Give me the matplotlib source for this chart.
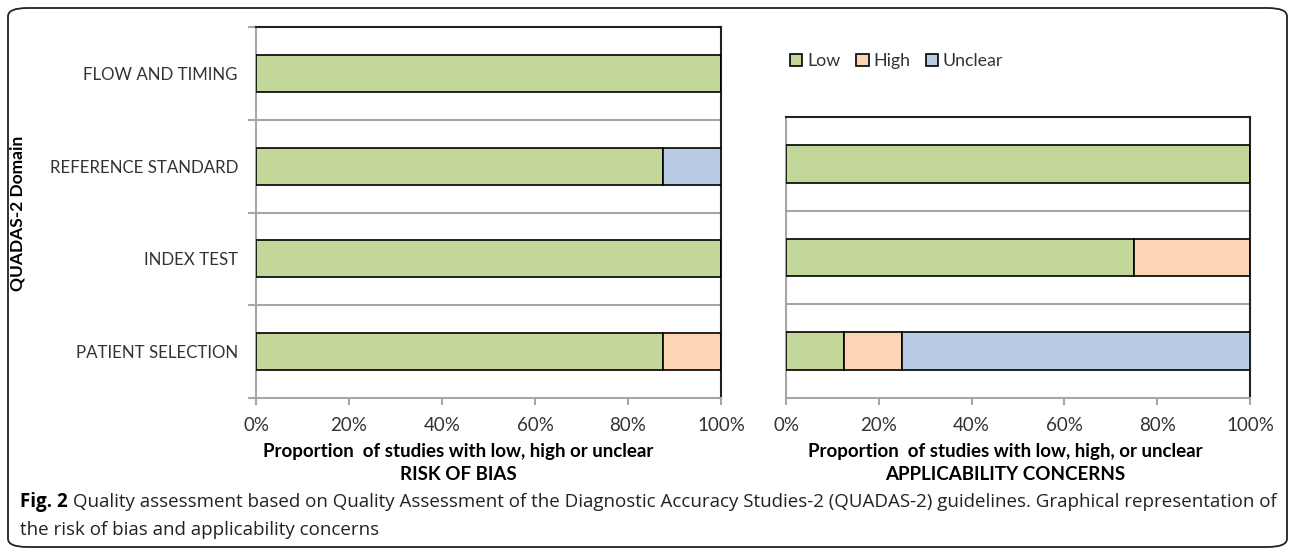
import numpy as np
import matplotlib
matplotlib.use("Agg")
import matplotlib.pyplot as plt
from matplotlib.patches import FancyBboxPatch, Patch

plt.rcParams['font.family'] = ['Lato', 'DejaVu Sans']

# risk of bias (bottom to top)
rob_domains = ["PATIENT SELECTION", "INDEX TEST", "REFERENCE STANDARD", "FLOW AND TIMING"]
rob_low = [87.5, 100, 87.5, 100]
rob_high = [12.5, 0, 0, 0]
rob_unclear = [0, 0, 12.5, 0]

# applicability concerns (bottom to top)
app_domains = ["PATIENT SELECTION", "INDEX TEST", "REFERENCE STANDARD"]
app_low = [12.5, 75, 100]
app_high = [12.5, 25, 0]
app_unclear = [75, 0, 0]

xticks = [0, 20, 40, 60, 80, 100]
xticklabels = ["0%", "20%", "40%", "60%", "80%", "100%"]

GREEN = "#c4d79b"
ORANGE = "#fcd5b4"
BLUE = "#b8cce4"
GRAY = "#a6a6a6"
TXT = "#333333"

W, H = 1295, 555
fig = plt.figure(figsize=(W / 100, H / 100), dpi=100)


def px(x0, y0, x1, y1):
    return [x0 / W, 1 - y1 / H, (x1 - x0) / W, (y1 - y0) / H]


def panel(ax, n, low, high, unclear, labels=None):
    y = np.arange(n)
    kw = dict(height=0.4, edgecolor="black", linewidth=1.2, zorder=3)
    low = np.array(low)
    high = np.array(high)
    unclear = np.array(unclear)
    ax.barh(y, low, color=GREEN, **kw)
    ax.barh(y, high, left=low, color=ORANGE, **kw)
    ax.barh(y, unclear, left=low + high, color=BLUE, **kw)
    ax.set_xlim(0, 100)
    ax.set_ylim(-0.5, n - 0.5)
    for b in np.arange(0.5, n - 0.5, 1):
        ax.axhline(b, color=GRAY, lw=1.5, zorder=1)
    ax.set_xticks(xticks)
    ax.set_xticklabels(xticklabels, fontsize=13.5, color=TXT)
    ax.tick_params(axis="x", direction="out", length=5, color=GRAY, width=1.5, pad=9)
    if labels is not None:
        ax.set_yticks(np.arange(-0.5, n, 1))
        ax.set_yticklabels([])
        ax.tick_params(axis="y", which="major", direction="out", length=6, color=GRAY, width=1.5)
        ax.set_yticks(y, labels, minor=True)
        ax.tick_params(axis="y", which="minor", length=0, pad=13, labelsize=12.2, labelcolor=TXT)
    else:
        ax.set_yticks([])
    for s in ("left", "bottom"):
        ax.spines[s].set_color(GRAY)
        ax.spines[s].set_linewidth(1.5)
    for s in ("top", "right"):
        ax.spines[s].set_color("#222222")
        ax.spines[s].set_linewidth(1.5)


ax1 = fig.add_axes(px(256, 27, 721, 398))
panel(ax1, len(rob_domains), rob_low, rob_high, rob_unclear, rob_domains)

ax2 = fig.add_axes(px(786, 117, 1250, 398))
panel(ax2, len(app_domains), app_low, app_high, app_unclear)

fig.text(458 / W, 1 - 463 / H, "Proportion  of studies with low, high or unclear\nRISK OF BIAS",
         ha="center", va="center", fontsize=13.5, fontweight="bold", linespacing=1.4)
fig.text(1005 / W, 1 - 463 / H, "Proportion  of studies with low, high, or unclear\nAPPLICABILITY CONCERNS",
         ha="center", va="center", fontsize=13.5, fontweight="bold", linespacing=1.4)
fig.text(18 / W, 1 - 213 / H, "QUADAS-2 Domain", rotation=90, ha="center", va="center",
         fontsize=12.5, fontweight="bold")

handles = [Patch(facecolor=c, edgecolor="black", linewidth=1.2) for c in (GREEN, ORANGE, BLUE)]
fig.legend(handles, ["Low", "High", "Unclear"], loc="center left",
           bbox_to_anchor=(774 / W, 1 - 61 / H), ncol=3, frameon=False, fontsize=12.8,
           handlelength=0.7, handleheight=0.7, handletextpad=0.25, columnspacing=0.9,
           labelcolor=TXT)

# caption
cap_font = ["Open Sans", "DejaVu Sans"]
t = fig.text(20 / W, 1 - 502 / H, "Fig. 2", ha="left", va="center", fontsize=13.5,
             fontweight="bold", family=cap_font)
fig.canvas.draw()
bb = t.get_window_extent()
fig.text((bb.x1 + 5) / W, 1 - 502 / H,
         "Quality assessment based on Quality Assessment of the Diagnostic Accuracy Studies-2 (QUADAS-2) guidelines. Graphical representation of",
         ha="left", va="center", fontsize=13.5, family=cap_font, color="#222222")
fig.text(20 / W, 1 - 530 / H, "the risk of bias and applicability concerns", ha="left", va="center",
         fontsize=13.5, family=cap_font, color="#222222")

box = FancyBboxPatch((8 / W, 8 / H), 1279 / W, 539 / H, boxstyle="round,pad=0,rounding_size=0.015",
                     transform=fig.transFigure, facecolor="none", edgecolor="#222222", linewidth=1.3)
fig.patches.append(box)

fig.savefig("out.png", dpi=100)
